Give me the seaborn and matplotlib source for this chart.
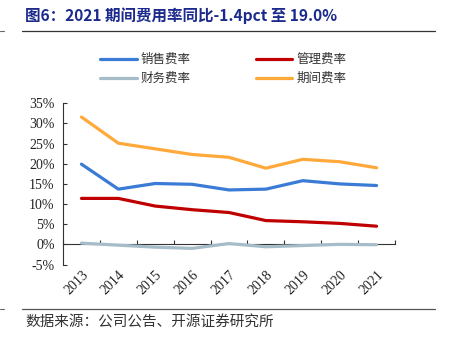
import matplotlib
matplotlib.use("Agg")
import matplotlib.pyplot as plt
import seaborn as sns
import pandas as pd
from matplotlib.ticker import FuncFormatter, FixedLocator
from matplotlib.lines import Line2D

years = ["2013", "2014", "2015", "2016", "2017", "2018", "2019", "2020", "2021"]
sales_rate = [19.9, 13.7, 15.1, 14.9, 13.5, 13.7, 15.8, 15.0, 14.6]
admin_rate = [11.4, 11.4, 9.5, 8.6, 7.9, 5.9, 5.6, 5.2, 4.5]
finance_rate = [0.3, -0.2, -0.7, -1.0, 0.2, -0.6, -0.3, 0.0, -0.1]
period_rate = [31.6, 25.1, 23.7, 22.3, 21.6, 18.9, 21.1, 20.5, 19.0]
series_names = ["销售费率", "管理费率", "财务费率", "期间费率"]
colors = ["#3A7BD5", "#C00000", "#A7BCC9", "#FFA93A"]
y_ticks = [-5, 0, 5, 10, 15, 20, 25, 30, 35]

sns.set_theme(style="white")
plt.rcParams["font.family"] = ["Noto Sans CJK SC", "DejaVu Sans"]

df = pd.DataFrame({"year": years * 4,
                   "idx": list(range(len(years))) * 4,
                   "value": sales_rate + admin_rate + finance_rate + period_rate,
                   "series": sum([[n] * len(years) for n in series_names], [])})

fig = plt.figure(figsize=(4.51, 3.46), dpi=100)
ax = fig.add_axes([63 / 451, 1 - 264.5 / 346, 332 / 451, (264.5 - 103.3) / 346])

sns.lineplot(data=df, x="idx", y="value", hue="series", hue_order=series_names,
             palette=colors, linewidth=2.3, ax=ax, legend=False, zorder=3)

ax.set_xlim(-0.5, len(years) - 0.5)
ax.set_ylim(-5, 35)
ax.set_xlabel("")
ax.set_ylabel("")

serif = "Liberation Serif"
ax.set_yticks(y_ticks)
ax.yaxis.set_major_formatter(FuncFormatter(lambda v, p: f"{int(v)}%"))
ax.tick_params(axis="y", direction="in", length=3, width=0.8, color="#333333",
               labelsize=10, pad=6, left=True, labelcolor="#222222")
for lab in ax.get_yticklabels():
    lab.set_fontfamily(serif)

ax.set_xticks(range(len(years)))
ax.set_xticklabels(years, rotation=45, ha="right", rotation_mode="anchor",
                   fontfamily=serif, fontsize=10, color="#222222")
ax.tick_params(axis="x", length=0, pad=3, bottom=True)

for s in ["top", "right", "bottom"]:
    ax.spines[s].set_visible(False)
ax.spines["left"].set_color("#333333")
ax.spines["left"].set_linewidth(0.8)

# x axis at zero
sec = ax.secondary_xaxis(5 / 40)
sec.spines["bottom"].set_color("#333333")
sec.spines["bottom"].set_linewidth(0.8)
sec.xaxis.set_major_locator(FixedLocator([i - 0.5 for i in range(len(years) + 1)]))
sec.set_xticklabels([])
sec.tick_params(axis="x", direction="in", length=3, width=0.8, color="#333333")

# legend (row-major order: 销售, 管理 / 财务, 期间)
order = [0, 2, 1, 3]
handles = [Line2D([0], [0], color=colors[i], lw=2.3) for i in order]
labels = [series_names[i] for i in order]
leg = fig.legend(handles, labels, ncol=2, loc="upper left",
                 bbox_to_anchor=(89 / 451, 1 - 42 / 346), frameon=False,
                 handlelength=2.9, handletextpad=0.35,
                 columnspacing=5.2, labelspacing=0.45,
                 prop={"family": ["Noto Sans CJK SC", "DejaVu Sans"], "size": 9})
for t in leg.get_texts():
    t.set_color("#333333")

# title and rules
fig.text(25 / 451, 1 - 16 / 346, "图6：2021 期间费用率同比-1.4pct 至 19.0%",
         fontsize=11.2, fontweight="bold", color="#1B2A8C", va="center", ha="left")
fig.add_artist(Line2D([22 / 451, 435 / 451], [1 - 31 / 346] * 2, color="#333333", lw=0.9))
fig.add_artist(Line2D([0, 4 / 451], [1 - 31 / 346] * 2, color="#666666", lw=0.8))
fig.add_artist(Line2D([22 / 451, 435 / 451], [1 - 309 / 346] * 2, color="#555555", lw=0.9))
fig.add_artist(Line2D([0, 4 / 451], [1 - 309 / 346] * 2, color="#666666", lw=0.8))
fig.text(25 / 451, 1 - 323 / 346, "数据来源：公司公告、开源证券研究所",
         fontsize=10.5, color="#333333", va="center", ha="left")

fig.savefig("out.png", dpi=100)
